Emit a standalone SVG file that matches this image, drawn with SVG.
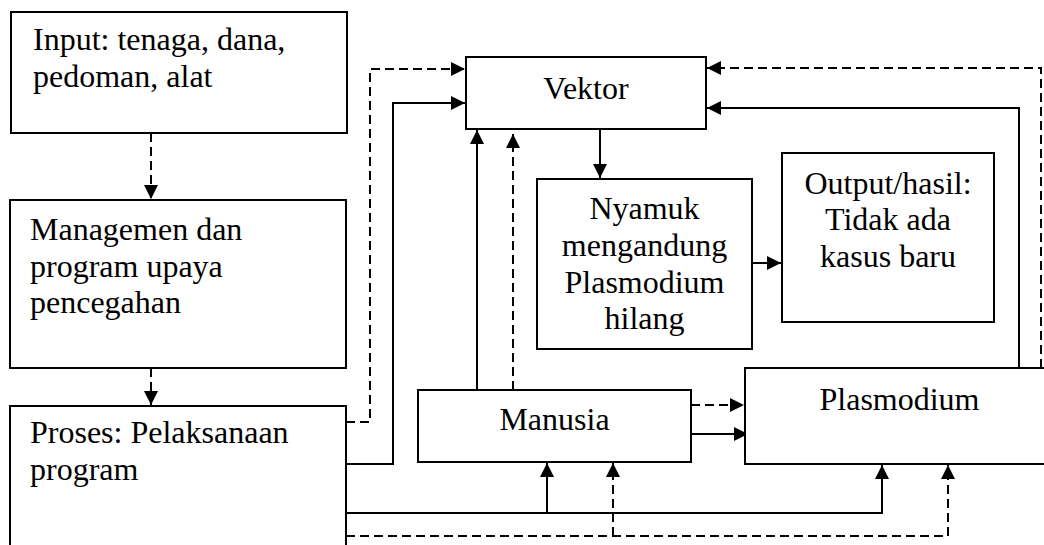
<svg xmlns="http://www.w3.org/2000/svg" width="1044" height="545" viewBox="0 0 1044 545">
  <style>
    .box { fill: #ffffff; stroke: #000000; stroke-width: 2; }
    .lbl { font-family: "Liberation Serif", "Times New Roman", serif; font-size: 32px; fill: #000000; }
    .mid { text-anchor: middle; }
    .ln { fill: none; stroke: #000000; stroke-width: 2; }
    .dash { stroke-dasharray: 9 5; }
  </style>
  <defs>
    <marker id="arrow" markerUnits="userSpaceOnUse" markerWidth="15" markerHeight="14" refX="14" refY="7" orient="auto">
      <path d="M0,0 L14,7 L0,14 z" fill="#000000"/>
    </marker>
  </defs>

  <rect width="1044" height="545" fill="#ffffff"/>

  <!-- connectors -->
  <g id="connectors">
    <!-- Input -> Managemen -> Proses -->
    <path class="ln dash" d="M151,133 V199" marker-end="url(#arrow)"/>
    <path class="ln dash" d="M151,368 V405" marker-end="url(#arrow)"/>

    <!-- Proses -> Vektor -->
    <path class="ln dash" d="M346,422 H370 V69 H465" marker-end="url(#arrow)"/>
    <path class="ln" d="M346,464 H393 V103 H465" marker-end="url(#arrow)"/>

    <!-- Manusia -> Vektor -->
    <path class="ln" d="M477,390 V130" marker-end="url(#arrow)"/>
    <path class="ln dash" d="M513,390 V134" marker-end="url(#arrow)"/>

    <!-- Vektor -> Nyamuk -> Output -->
    <path class="ln" d="M600,130 V178" marker-end="url(#arrow)"/>
    <path class="ln" d="M752,263 H781" marker-end="url(#arrow)"/>

    <!-- Manusia -> Plasmodium -->
    <path class="ln dash" d="M691,405 H744" marker-end="url(#arrow)"/>
    <path class="ln" d="M691,434 H748" marker-end="url(#arrow)"/>

    <!-- Plasmodium -> Vektor -->
    <path class="ln" d="M1019,368 V108 H707" marker-end="url(#arrow)"/>
    <path class="ln dash" d="M1041,368 V68 H707" marker-end="url(#arrow)"/>

    <!-- Proses -> Manusia / Plasmodium along the bottom -->
    <path class="ln" d="M346,513 H882 V465" marker-end="url(#arrow)"/>
    <path class="ln" d="M547,513 V463" marker-end="url(#arrow)"/>
    <path class="ln dash" d="M346,536 H948 V465" marker-end="url(#arrow)"/>
    <path class="ln dash" d="M613,536 V463" marker-end="url(#arrow)"/>
  </g>

  <!-- nodes -->
  <g id="input">
    <rect class="box" x="11" y="12" width="336" height="121"/>
    <text class="lbl" x="33" y="50">Input: tenaga, dana,</text>
    <text class="lbl" x="33" y="87">pedoman, alat</text>
  </g>

  <g id="managemen">
    <rect class="box" x="10" y="200" width="336" height="168"/>
    <text class="lbl" x="30" y="240">Managemen dan</text>
    <text class="lbl" x="30" y="277">program upaya</text>
    <text class="lbl" x="30" y="313">pencegahan</text>
  </g>

  <g id="proses">
    <rect class="box" x="10" y="406" width="336" height="160"/>
    <text class="lbl" x="30" y="443">Proses: Pelaksanaan</text>
    <text class="lbl" x="30" y="480">program</text>
  </g>

  <g id="vektor">
    <rect class="box" x="466" y="57" width="240" height="72"/>
    <text class="lbl mid" x="586" y="99">Vektor</text>
  </g>

  <g id="nyamuk">
    <rect class="box" x="537" y="179" width="215" height="170"/>
    <text class="lbl mid" x="644.5" y="219">Nyamuk</text>
    <text class="lbl mid" x="644.5" y="256">mengandung</text>
    <text class="lbl mid" x="644.5" y="293">Plasmodium</text>
    <text class="lbl mid" x="644.5" y="329">hilang</text>
  </g>

  <g id="output">
    <rect class="box" x="782" y="153" width="212" height="169"/>
    <text class="lbl mid" x="888" y="194">Output/hasil:</text>
    <text class="lbl mid" x="888" y="230">Tidak ada</text>
    <text class="lbl mid" x="888" y="267">kasus baru</text>
  </g>

  <g id="manusia">
    <rect class="box" x="418" y="390" width="273" height="72"/>
    <text class="lbl mid" x="554.5" y="430">Manusia</text>
  </g>

  <g id="plasmodium">
    <rect class="box" x="745" y="368" width="320" height="96"/>
    <text class="lbl mid" x="899.5" y="410">Plasmodium</text>
  </g>
</svg>
